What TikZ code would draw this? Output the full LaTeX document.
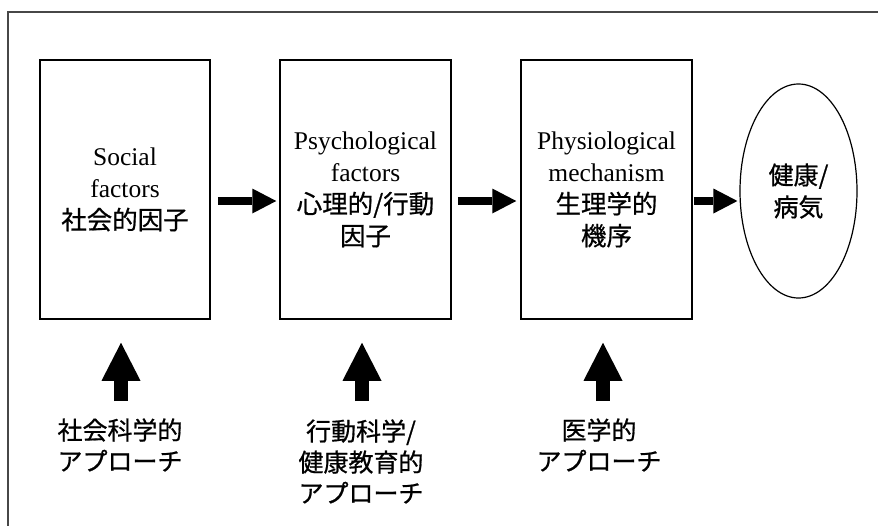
\documentclass[tikz,border=0pt]{standalone}
\usepackage{fontspec}
\setmainfont{Liberation Serif}
\newfontfamily\jp[FakeBold=0.7]{Noto Sans CJK JP}
\usetikzlibrary{arrows.meta,shapes.geometric}
\begin{document}
\begin{tikzpicture}[x=1pt,y=-1pt,
  box/.style={draw, line width=1.5pt, minimum width=170pt, minimum height=259pt,
    inner sep=0pt, align=center, font=\fontsize{25.5}{32}\selectfont},
  oval/.style={draw, ellipse, line width=1.2pt, minimum width=117pt, minimum height=214pt,
    inner sep=0pt, align=center, font=\jp\fontsize{25}{32}\selectfont},
  lbl/.style={align=center, inner sep=0pt, font=\jp\fontsize{25}{31}\selectfont},
  fatright/.style={line width=8pt, -{Triangle[length=24pt,width=25pt,line width=0pt]}},
  fatup/.style={line width=14pt, -{Triangle[length=38pt,width=39pt,line width=0pt]}}
]
\clip (0,0) rectangle (878,525);
\draw[line width=1.2pt, black!72] (8,12) rectangle (900,560);

\node[box] (b1) at (125,189.5) {Social\\factors\\{\jp 社会的因子}};
\node[box, minimum width=171pt] (b2) at (365.5,189.5) {Psychological\\factors\\{\jp 心理的/行動}\\{\jp 因子}};
\node[box, minimum width=171pt] (b3) at (606.5,189.5) {Physiological\\mechanism\\{\jp 生理学的}\\{\jp 機序}};
\node[oval] (e) at (798.5,191) {健康/\\病気};

\draw[fatright, shorten <=7pt, shorten >=3pt] ([yshift=-11.5pt]b1.east) -- ([yshift=-11.5pt]b2.west);
\draw[fatright, shorten <=6pt, shorten >=4pt] ([yshift=-11.5pt]b2.east) -- ([yshift=-11.5pt]b3.west);
\draw[fatright, shorten <=1pt, shorten >=2pt] ([yshift=-11.5pt]b3.east) -- ([yshift=-10pt]e.west);

\node[lbl] (l1) at (120,445) {社会科学的\\アプローチ};
\node[lbl] (l2) at (361,461.5) {行動科学/\\健康教育的\\アプローチ};
\node[lbl] (l3) at (599,445) {医学的\\アプローチ};

\coordinate (u1) at (121,401);
\coordinate (u2) at (362,401);
\coordinate (u3) at (603,401);
\draw[fatup, shorten >=23pt] (u1) -- (u1 |- b1.south);
\draw[fatup, shorten >=23pt] (u2) -- (u2 |- b2.south);
\draw[fatup, shorten >=23pt] (u3) -- (u3 |- b3.south);
\end{tikzpicture}
\end{document}
